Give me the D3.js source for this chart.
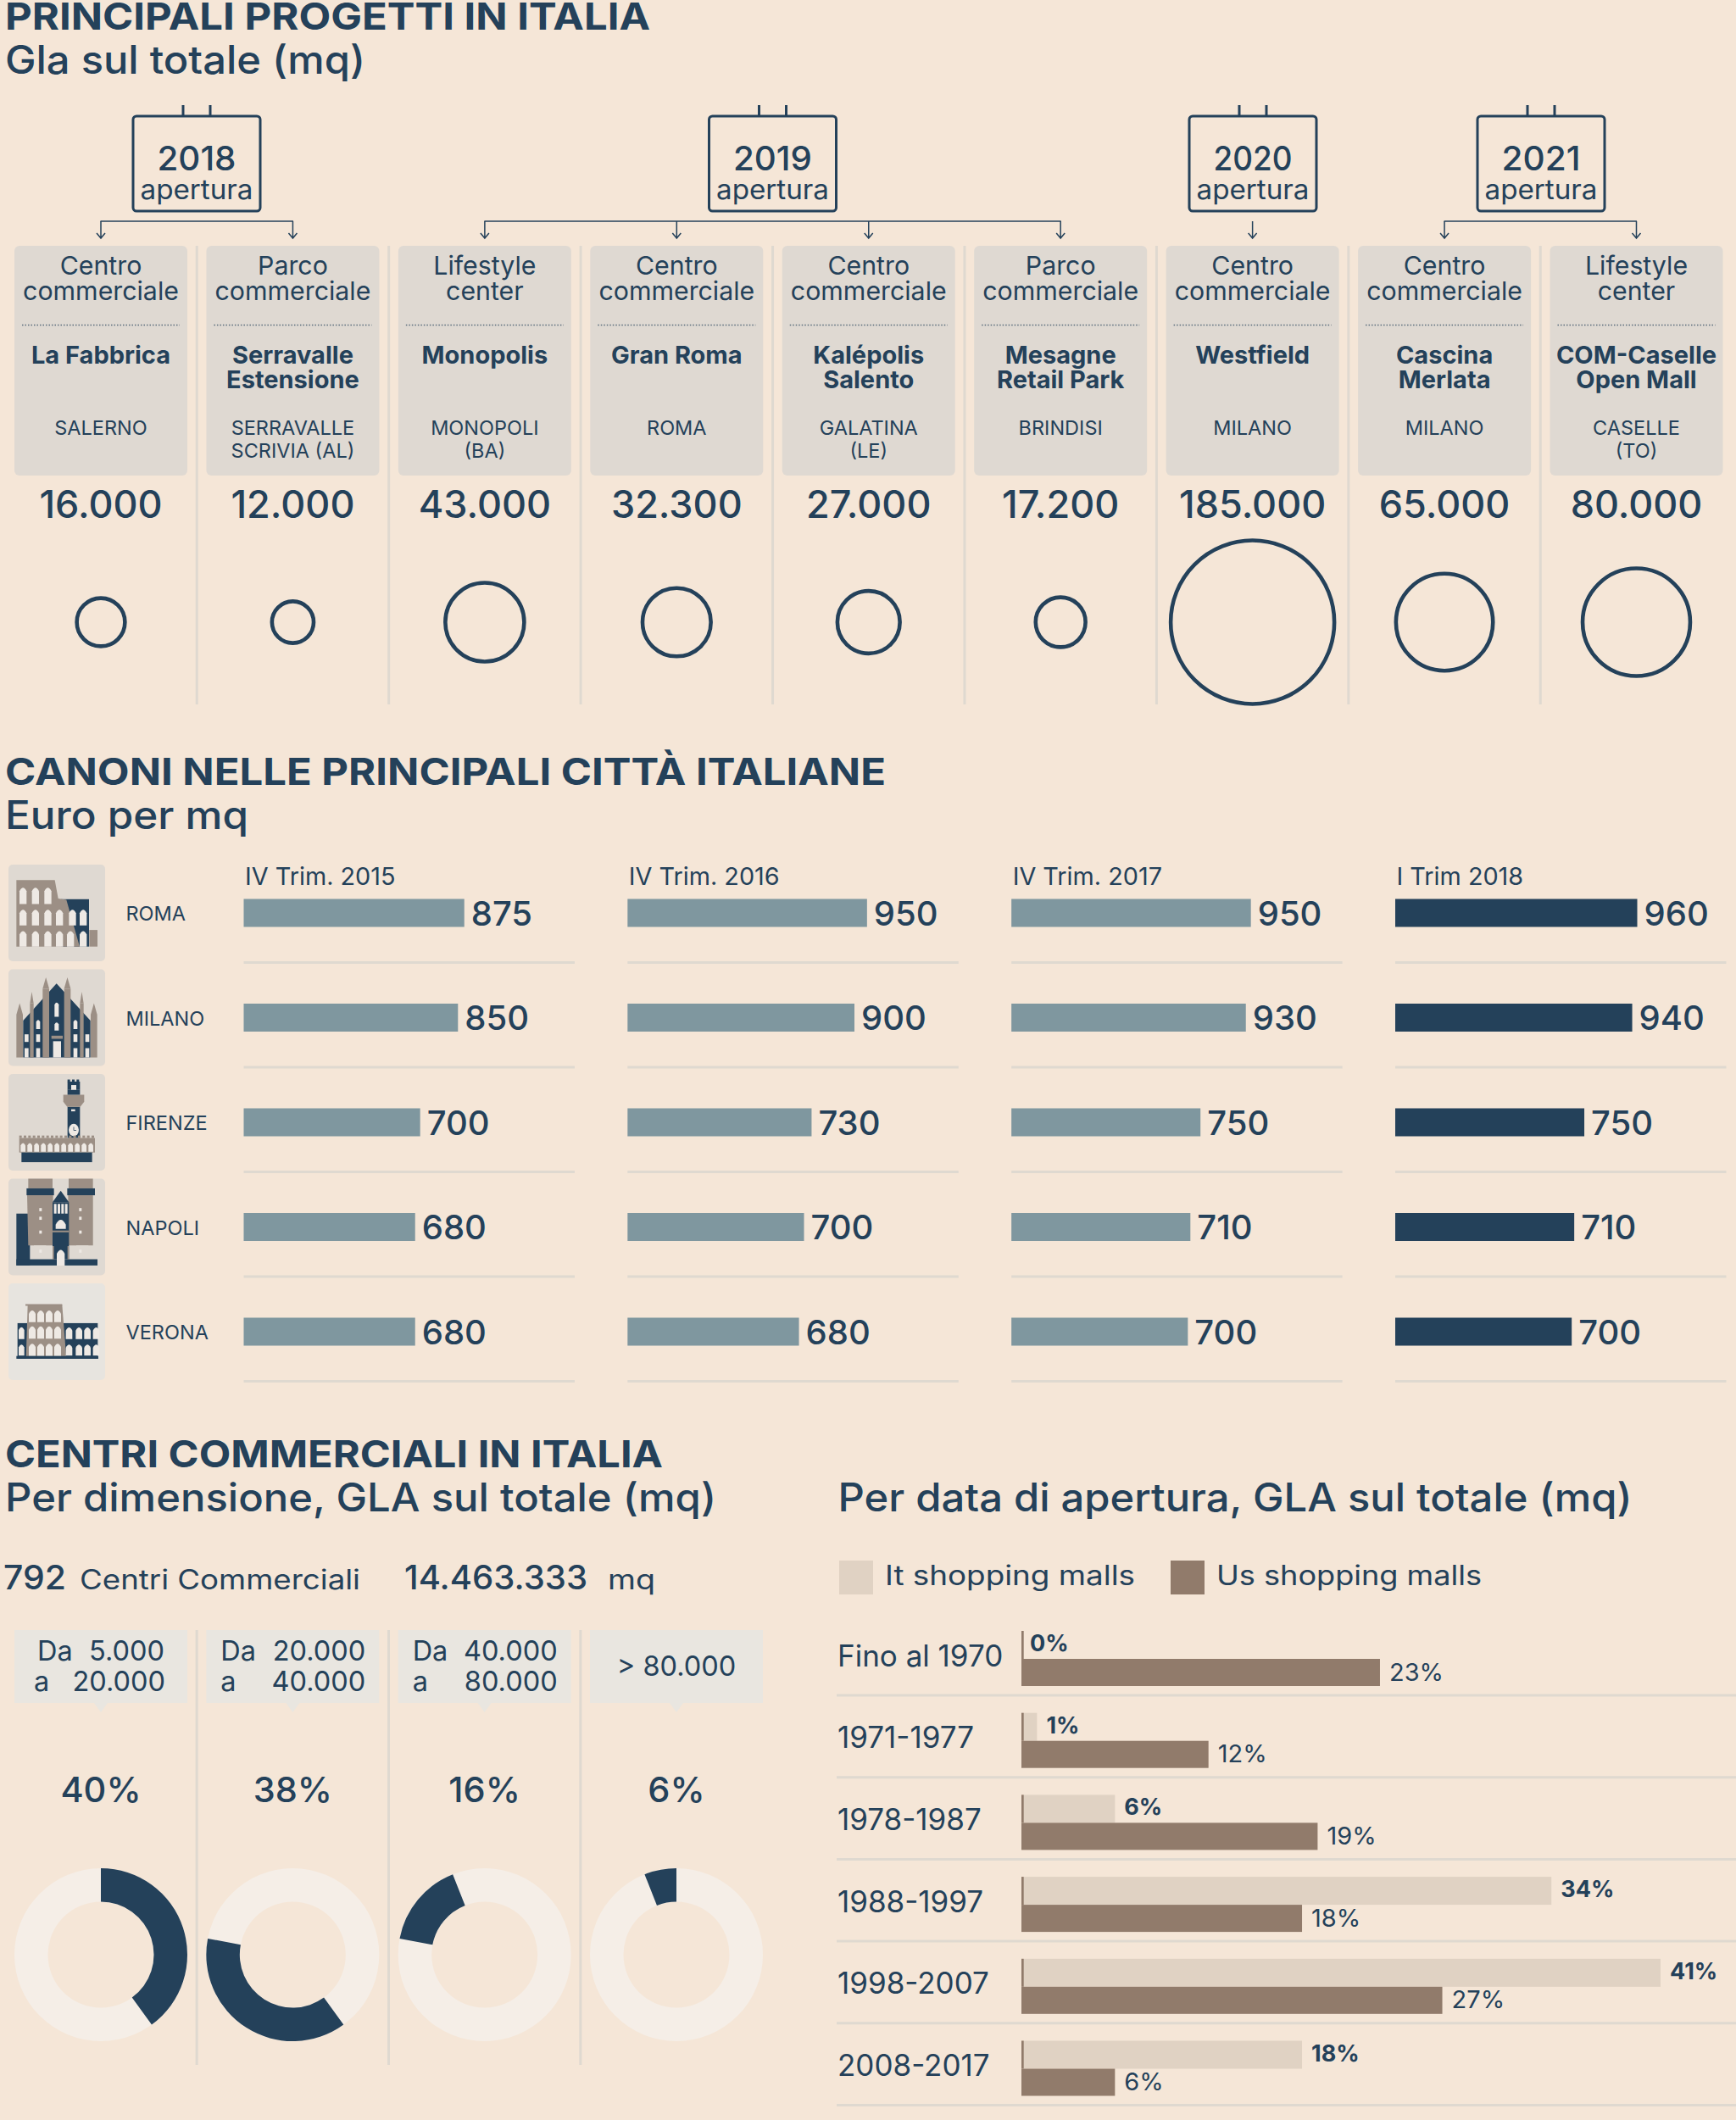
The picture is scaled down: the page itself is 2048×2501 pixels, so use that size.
<!DOCTYPE html>
<html>
<head>
<meta charset="utf-8">
<script src="https://cdnjs.cloudflare.com/ajax/libs/d3/7.8.5/d3.min.js"></script>
<style>
html,body{margin:0;padding:0;background:#f5e6d7;}
svg{display:block;}
text{font-family:Inter,"Noto Sans",sans-serif;fill:#24415a;}
</style>
</head>
<body>
<script>
// --- first block: projects
var projectYears=[2018,2018,2019,2019,2019,2019,2020,2021,2021];
var projectTypes=["Centro\ncommerciale","Parco\ncommerciale","Lifestyle\ncenter","Centro\ncommerciale","Centro\ncommerciale","Parco\ncommerciale","Centro\ncommerciale","Centro\ncommerciale","Lifestyle\ncenter"];
var projectNames=["La Fabbrica","Serravalle\nEstensione","Monopolis","Gran Roma","Kalépolis\nSalento","Mesagne\nRetail Park","Westfield","Cascina\nMerlata","COM-Caselle\nOpen Mall"];
var projectCities=["SALERNO","SERRAVALLE\nSCRIVIA (AL)","MONOPOLI\n(BA)","ROMA","GALATINA\n(LE)","BRINDISI","MILANO","MILANO","CASELLE\n(TO)"];
var projectGla=[16000,12000,43000,32300,27000,17200,185000,65000,80000];

// --- second block: rents
var cities=["ROMA","MILANO","FIRENZE","NAPOLI","VERONA"];
var quarters=["IV Trim. 2015","IV Trim. 2016","IV Trim. 2017","I Trim 2018"];
var rent2015=[875,850,700,680,680];
var rent2016=[950,900,730,700,680];
var rent2017=[950,930,750,710,700];
var rent2018=[960,940,750,710,700];

// --- third block: size and opening date
var sizeFrom=["5.000","20.000","40.000"];
var sizeTo=["20.000","40.000","80.000"];
var sizeShares=[40,38,16,6];
var periods=["Fino al 1970","1971-1977","1978-1987","1988-1997","1998-2007","2008-2017"];
var itShares=[0,1,6,34,41,18];
var usShares=[23,12,19,18,27,6];

var dark="#24415a",sep="#dfd9d0",cardCol="#dfd9d2",taupe="#9c8f85",win="#eee9e4";
var itCol="#e0d2c3",usCol="#917b6b";

var svg=d3.select("body").append("svg").attr("width",2048).attr("height",2501);
svg.append("rect").attr("width",2048).attr("height",2501).attr("fill","#f5e6d7");

// writes a text, \n gives tspans. w forces the width of a single line
function txt(x,y,s,size,o){
	o=o||{};
	var lines=String(s).split("\n");
	var t=svg.append("text")
		.attr("x",x).attr("y",y)
		.attr("font-size",size)
		.attr("font-weight",o.weight||400)
		.attr("text-anchor",o.anchor||"start");
	if(lines.length==1){
		t.text(s);
		if(o.w) t.attr("textLength",o.w).attr("lengthAdjust","spacingAndGlyphs");
	} else {
		lines.forEach(function(l,i){
			t.append("tspan").attr("x",x).attr("dy",i?o.lh:0).text(l);
		});
	}
}

function heading(y,title,tw,sub,sw){
	txt(6,y,title,44,{weight:700,w:tw});
	txt(6,y+52,sub,46,{w:sw,weight:500});
}

//first block ------------------------------------------------
heading(35,"PRINCIPALI PROGETTI IN ITALIA",761,"Gla sul totale (mq)",425);

var col=d3.scalePoint().domain(d3.range(9)).range([119,1930.5]);
var colW=204;
var r=d3.scaleSqrt().domain([0,185000]).range([0,96.5]);

// separators
d3.range(8).forEach(function(i){
	var x=(col(i)+col(i+1))/2;
	svg.append("line").attr("x1",x).attr("x2",x).attr("y1",290).attr("y2",831)
		.attr("stroke",sep).attr("stroke-width",3);
});

// calendars and arrows
var byYear=d3.group(d3.range(9),function(i){return projectYears[i]});
var calX={2018:232,2019:911.5,2020:1478,2021:1818};
byYear.forEach(function(idx,year){
	var cx=calX[year];
	[-16,16].forEach(function(dx){
		svg.append("line").attr("x1",cx+dx).attr("x2",cx+dx).attr("y1",124).attr("y2",137)
			.attr("stroke",dark).attr("stroke-width",3);
	});
	svg.append("rect").attr("x",cx-75).attr("y",137).attr("width",150).attr("height",112).attr("rx",4)
		.attr("fill","none").attr("stroke",dark).attr("stroke-width",3);
	txt(cx,201,year,40,{anchor:"middle",w:93,weight:500});
	txt(cx,235,"apertura",32,{anchor:"middle",w:133});
	if(idx.length>1){
		svg.append("line").attr("x1",col(idx[0])-.5).attr("x2",col(idx[idx.length-1])+.5).attr("y1",261).attr("y2",261)
			.attr("stroke",dark).attr("stroke-width",1.5);
	}
	idx.forEach(function(i){
		var x=col(i);
		svg.append("path").attr("d","M"+x+","+(idx.length>1?261:261)+"V281M"+(x-5)+",275L"+x+",281L"+(x+5)+",275")
			.attr("fill","none").attr("stroke",dark).attr("stroke-width",1.5);
	});
});

projectGla.forEach(function(v,i){
	var x=col(i);
	svg.append("rect").attr("x",x-colW/2).attr("y",290).attr("width",colW).attr("height",271).attr("rx",6).attr("fill",cardCol);
	txt(x,324,projectTypes[i],30.3,{anchor:"middle",lh:29.5});
	svg.append("line").attr("x1",x-93).attr("x2",x+93).attr("y1",383.5).attr("y2",383.5)
		.attr("stroke",dark).attr("stroke-width",1.5).attr("stroke-dasharray","1.5 2").attr("opacity",.7);
	txt(x,428.5,projectNames[i],29,{anchor:"middle",weight:700,lh:29.5});
	txt(x,513,projectCities[i],23.5,{anchor:"middle",lh:27});
	txt(x,611,d3.format(",")(v).replace(/,/g,"."),45,{anchor:"middle",weight:500});
	svg.append("circle").attr("cx",x).attr("cy",734).attr("r",r(v)).attr("fill","none").attr("stroke",dark).attr("stroke-width",4.6);
});

//second block -----------------------------------------------
heading(926,"CANONI NELLE PRINCIPALI CITTÀ ITALIANE",1039,"Euro per mq",287);

var rows=d3.scalePoint().domain(cities).range([1077,1571]);
var panel=d3.scalePoint().domain(quarters).range([287.5,1646]);
var rentX=d3.scaleLinear().domain([0,960]).range([0,285.5]);
var rentData=[rent2015,rent2016,rent2017,rent2018];

quarters.forEach(function(q,k){
	var px=panel(q);
	txt(px+1.5,1043.5,q,28.8,{});
	cities.forEach(function(c,j){
		var v=rentData[k][j],y=rows(c);
		svg.append("rect").attr("x",px).attr("y",y-16.5).attr("width",rentX(v)).attr("height",33)
			.attr("fill",k==3?dark:"#7f979f");
		txt(px+rentX(v)+8,y+14.5,v,40,{weight:500});
		svg.append("line").attr("x1",px).attr("x2",px+390.5).attr("y1",y+58.5).attr("y2",y+58.5)
			.attr("stroke",sep).attr("stroke-width",3);
	});
});

cities.forEach(function(c){
	var y=rows(c);
	var g=svg.append("g").attr("transform","translate(10,"+(y-57)+")");
	g.append("rect").attr("width",114).attr("height",114).attr("rx",5).attr("fill",c=="VERONA"?"#e7e4df":cardCol);
	drawIcon(g.append("g").attr("transform","scale(.3333,.408)"),c);
	txt(148.5,y+9,c,23.5,{});
});

// little monuments, local units are 342 x 280
function drawIcon(g,c){
	function box(x,y,w,h,f){g.append("rect").attr("x",x).attr("y",y).attr("width",w).attr("height",h).attr("fill",f)}
	function poly(p,f){g.append("path").attr("d","M"+p+"Z").attr("fill",f)}
	function arch(x,y,w,h,f){
		g.append("path").attr("d","M"+x+","+(y+h)+"V"+(y+w*.5)+"Q"+(x+w/2)+","+(y-w*.3)+" "+(x+w)+","+(y+w*.5)+"V"+(y+h)+"Z").attr("fill",f||win);
	}
	function merlons(x,x2,y,f){for(var m=x;m<x2;m+=16) box(m,y,9,7,f)}
	if(c=="ROMA"){
		box(186,100,99,137,dark);
		box(286,189,29,48,taupe);
		poly("28,45 164,45 176,98 205,102 252,237 28,237",taupe);
		[39,83,127].forEach(function(x){arch(x,64,25,50);arch(x,128,25,48);arch(x,190,25,47)});
		arch(168,128,25,48);arch(168,190,25,47);arch(207,190,25,47);
		arch(214,128,25,48);arch(252,128,25,48);arch(252,190,25,47);
	}
	if(c=="MILANO"){
		poly("170,41 52,148 52,255 290,255 290,148",dark);
		[[28,103,23],[76,70,13],[121,28,23],[197,28,23],[253,70,13],[291,103,23]].forEach(function(p){
			box(p[0],p[1]+28,p[2],255-p[1]-28,taupe);
			poly(p[0]+","+(p[1]+28)+" "+(p[0]+p[2]/2)+","+(p[1]-5)+" "+(p[0]+p[2])+","+(p[1]+28),taupe);
		});
		arch(163,95,15,42);arch(163,152,15,25);
		box(152,192,40,9,taupe);
		box(158,208,28,47,win);
		[98,230].forEach(function(x){arch(x,145,14,28);box(x,188,14,22,win);box(x,228,14,27,win)});
		[57,272].forEach(function(x){box(x,188,14,22,win);box(x,228,14,27,win)});
	}
	if(c=="FIRENZE"){
		box(209,22,44,24,dark);merlons(209,253,16,dark);
		box(222,32,18,24,win);
		box(209,95,44,90,dark);
		poly("194,60 268,60 268,80 254,95 208,95 194,80",taupe);
		box(209,46,44,14,dark);
		box(222,102,14,6,win);
		g.append("circle").attr("cx",231).attr("cy",162).attr("r",18).attr("fill",win);
		g.append("path").attr("d","M231,153V163H240").attr("fill","none").attr("stroke",dark).attr("stroke-width",2);
		box(38,185,268,42,taupe);merlons(38,306,178,taupe);
		d3.range(11).forEach(function(m){arch(43+m*24,198,17,27)});
		box(46,227,250,28,dark);
	}
	if(c=="NAPOLI"){
		box(28,101,48,150,dark);
		box(28,233,287,18,dark);
		box(70,0,86,28,taupe);box(213,0,86,28,taupe);
		box(64,28,97,20,dark);box(208,28,98,20,dark);
		poly("66,48 158,48 156,193 70,193",taupe);
		poly("211,48 299,48 299,193 213,193",taupe);
		box(156,68,58,165,dark);
		poly("156,68 185,35 214,68",dark);
		[161,174,187,200].forEach(function(x){box(x,73,9,28,win)});
		arch(167,115,36,30);
		box(156,150,58,5,taupe);
		box(156,195,5,38,taupe);box(209,195,5,38,taupe);
		arch(171,203,28,48);
		box(90,193,43,35,"#dfd9d2");box(240,193,43,35,"#dfd9d2");
		[[109,85],[109,110],[109,150],[109,205],[250,85],[250,110],[250,150],[250,205]].forEach(function(p){box(p[0],p[1],9,9,win)});
	}
	if(c=="VERONA"){
		box(32,115,284,103,dark);
		poly("68,62 190,62 205,218 62,218",taupe);
		box(60,60,130,5,taupe);
		[72,102,132,162].forEach(function(x){arch(x,76,24,36)});
		[72,102,132,162].forEach(function(x){arch(x,122,24,38);arch(x,172,24,38)});
		[36].forEach(function(x){arch(x,125,20,36);arch(x,175,20,34)});
		[203,238,268,299].forEach(function(x){arch(x,125,14+9,36);arch(x,175,14+9,34)});
		box(28,210,290,8,dark);
	}
}

//third block ------------------------------------------------
heading(1730.5,"CENTRI COMMERCIALI IN ITALIA",776,"Per dimensione, GLA sul totale (mq)",839);
txt(988.5,1782.5,"Per data di apertura, GLA sul totale (mq)",46,{w:937,weight:500});

txt(4,1875,"792",39,{weight:500,w:74});
txt(94,1875,"Centri Commerciali",32,{w:331});
txt(477,1875,"14.463.333",39,{weight:500,w:216});
txt(717,1875,"mq",32,{w:56});

var sizeCol=d3.scalePoint().domain(d3.range(4)).range([119,798]);
var ang=d3.scaleLinear().domain([0,100]).range([0,2*Math.PI]);
var arc=d3.arc().innerRadius(62.5).outerRadius(102);
var cum=[0].concat(Array.from(d3.cumsum(sizeShares)));

d3.range(3).forEach(function(i){
	var x=(sizeCol(i)+sizeCol(i+1))/2;
	svg.append("line").attr("x1",x).attr("x2",x).attr("y1",1923).attr("y2",2436)
		.attr("stroke",sep).attr("stroke-width",3);
});

sizeShares.forEach(function(v,i){
	var x=sizeCol(i);
	svg.append("rect").attr("x",x-colW/2).attr("y",1923).attr("width",colW).attr("height",86).attr("fill","#e9e6e0");
	svg.append("path").attr("d","M"+(x-8)+",2009L"+x+",2020L"+(x+8)+",2009Z").attr("fill","#e9e6e0");
	if(i<3){
		txt(x-(i==0?75:85),1959,"Da",32.5,{});
		txt(x-(i==0?79:85),1995,"a",32.5,{});
		txt(x+(i==0?75:86),1959,sizeFrom[i],32.5,{anchor:"end"});
		txt(x+(i==0?76:86),1995,sizeTo[i],32.5,{anchor:"end"});
	} else {
		txt(x,1977,"> 80.000",32.5,{anchor:"middle"});
	}
	txt(x,2126,v+"%",41.5,{anchor:"middle",weight:500});
	var g=svg.append("g").attr("transform","translate("+x+",2306)");
	g.append("path").attr("d",arc({startAngle:0,endAngle:2*Math.PI})).attr("fill","#f5eee7");
	g.append("path").attr("d",arc({startAngle:ang(cum[i]),endAngle:ang(cum[i+1])})).attr("fill",dark);
});

// legend
svg.append("rect").attr("x",990).attr("y",1841).attr("width",40).attr("height",40).attr("fill",itCol);
svg.append("rect").attr("x",1381).attr("y",1841).attr("width",40).attr("height",40).attr("fill",usCol);
txt(1044,1870,"It shopping malls",32,{w:295});
txt(1435,1870,"Us shopping malls",32,{w:313});

var pRow=d3.scalePoint().domain(periods).range([1924,2407.5]);
var shareX=d3.scaleLinear().domain([0,41]).range([0,754]);

periods.forEach(function(p,i){
	var y=pRow(p),x0=1205;
	txt(988,y+41.5,p,35,{});
	svg.append("rect").attr("x",x0).attr("y",y).attr("width",shareX(itShares[i])).attr("height",33).attr("fill",itCol);
	svg.append("rect").attr("x",x0).attr("y",y+33).attr("width",shareX(usShares[i])).attr("height",32).attr("fill",usCol);
	svg.append("rect").attr("x",x0).attr("y",y).attr("width",2.7).attr("height",33).attr("fill",usCol);
	txt(x0+shareX(itShares[i])+(itShares[i]?11:10),y+24,itShares[i]+"%",27,{weight:700});
	txt(x0+shareX(usShares[i])+11,y+58.5,usShares[i]+"%",29,{});
	svg.append("line").attr("x1",987).attr("x2",2048).attr("y1",y+76).attr("y2",y+76)
		.attr("stroke",sep).attr("stroke-width",3);
});
</script>
</body>
</html>
